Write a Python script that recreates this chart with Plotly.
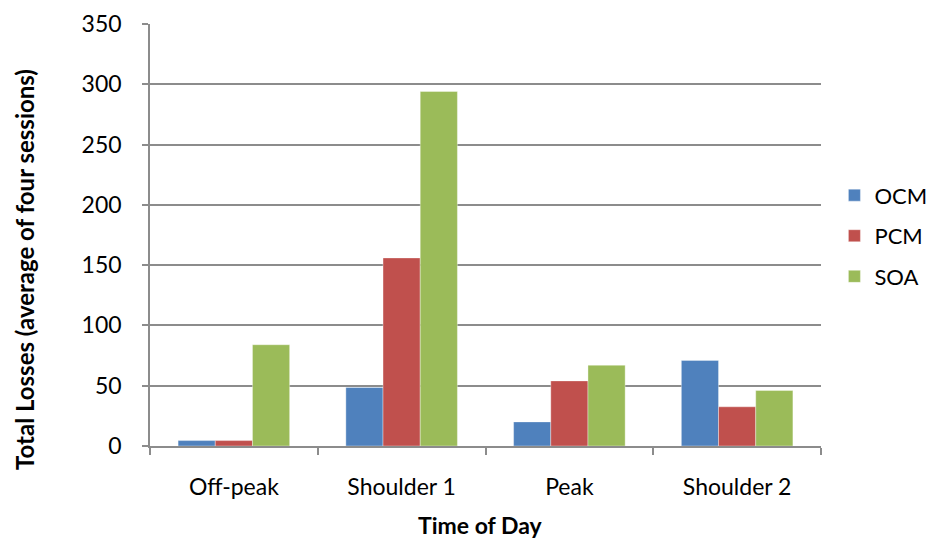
import plotly.graph_objects as go

# Time-of-day periods and average total losses per method
periods = ["Off-peak", "Shoulder 1", "Peak", "Shoulder 2"]
ocm = [4.5, 48.5, 20, 71]
pcm = [4.5, 156, 54, 32.5]
soa = [84, 294, 67, 46]

series = [("OCM", ocm, "#4F81BD"), ("PCM", pcm, "#C0504D"), ("SOA", soa, "#9BBB59")]

font_family = "Lato, Open Sans, Liberation Sans, sans-serif"
axis_gray = "#8C8C8C"

fig = go.Figure()
for name, vals, color in series:
    fig.add_trace(go.Bar(
        x=periods, y=vals, name=name, legendgroup=name,
        marker=dict(color=color, line=dict(color="rgba(255,255,255,0.6)", width=0.6)),
    ))

fig.update_layout(
    width=933, height=540,
    margin=dict(l=150, r=112, t=24, b=94, autoexpand=False),
    paper_bgcolor="white", plot_bgcolor="white",
    barmode="group", bargap=0.335, bargroupgap=0,
    font=dict(family=font_family, size=23, color="black"),
    showlegend=True,
    legend=dict(x=1.02, y=0.498, xanchor="left", yanchor="middle",
                font=dict(size=22), itemwidth=30, tracegroupgap=9,
                bgcolor="rgba(0,0,0,0)"),
    xaxis=dict(
        showline=True, linecolor=axis_gray, linewidth=1.5,
        ticks="outside", tickson="boundaries", ticklen=7, tickcolor=axis_gray, tickwidth=1.5,
        ticklabelstandoff=20,
        showgrid=False,
    ),
    yaxis=dict(
        range=[0, 350], dtick=50, tick0=0,
        showline=True, linecolor=axis_gray, linewidth=1.5,
        ticks="outside", ticklen=6, tickcolor=axis_gray, tickwidth=1.5,
        ticklabelstandoff=16,
        showgrid=True, gridcolor=axis_gray, gridwidth=1.5,
        zeroline=False,
    ),
    annotations=[
        dict(text="<b>Time of Day</b>", xref="paper", yref="paper",
             x=0.492, y=-0.188, xanchor="center", yanchor="middle",
             showarrow=False, font=dict(size=23)),
        dict(text="<b>Total Losses (average of four sessions)</b>", xref="paper", yref="paper",
             x=-0.188, y=0.419, xanchor="center", yanchor="middle", textangle=-90,
             showarrow=False, font=dict(size=24)),
    ],
)

fig.write_html("out.html")
